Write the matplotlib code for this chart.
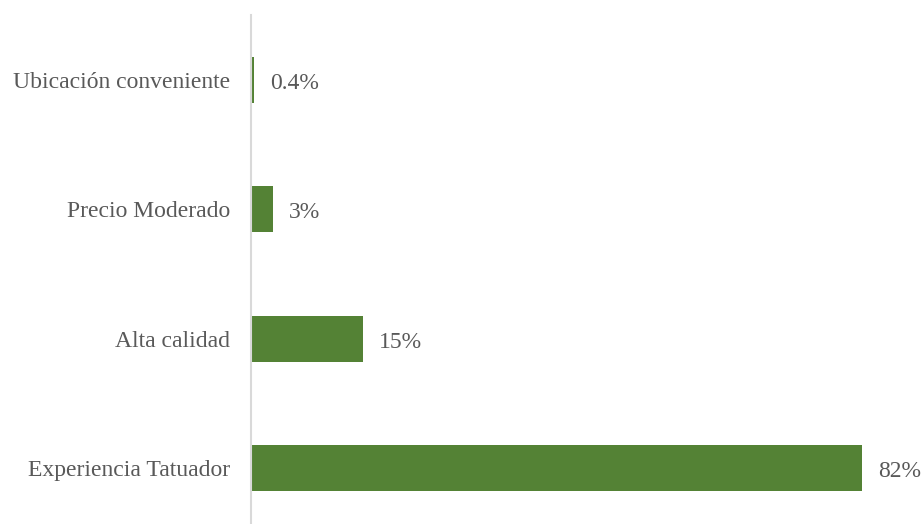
import matplotlib.pyplot as plt

# datos de la encuesta
categorias = ["Experiencia Tatuador", "Alta calidad", "Precio Moderado", "Ubicación conveniente"]
valores = [82, 15, 3, 0.4]
etiquetas = ["82%", "15%", "3%", "0.4%"]

plt.rcParams['font.family'] = ['Liberation Serif', 'DejaVu Serif']
gris = '#595959'
verde = '#548235'

fig = plt.figure(figsize=(9.24, 5.24), dpi=100)
ax = fig.add_axes([0.2716, -0.0164, 0.7257, 0.987])

pos = range(len(categorias))
barras = ax.barh(pos, valores, height=0.356, color=verde)

for b, txt in zip(barras, etiquetas):
    ax.annotate(txt, (b.get_width(), b.get_y() + b.get_height() / 2),
                xytext=(16, -1), textcoords='offset pixels',
                va='center_baseline', ha='left', fontsize=17, color=gris)

ax.set_yticks(list(pos))
ax.set_yticklabels(categorias, fontsize=17, color=gris, va='center_baseline')
ax.tick_params(axis='y', length=0, pad=15)
ax.set_xticks([])
ax.set_xlim(0, 90)
ax.set_ylim(-0.5, 3.5)

for lado in ['top', 'right', 'bottom']:
    ax.spines[lado].set_visible(False)
ax.spines['left'].set_color('#d9d9d9')
ax.spines['left'].set_linewidth(1.5)

fig.savefig("out.png", dpi=100)
plt.close()
